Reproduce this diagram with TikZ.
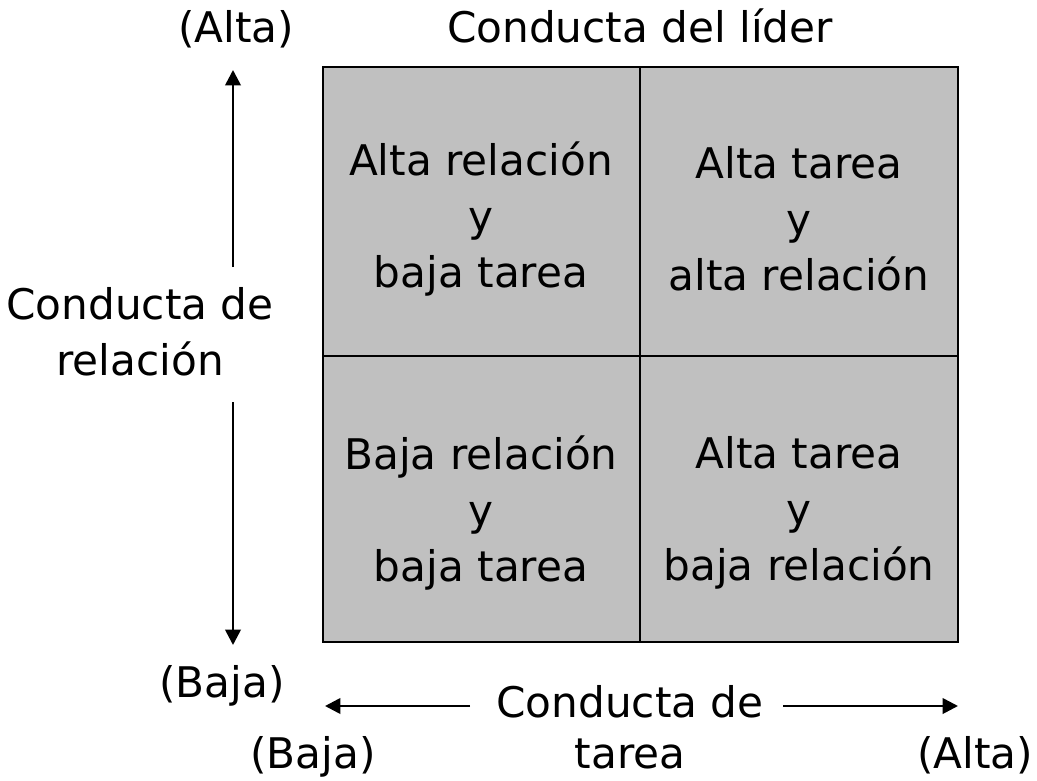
\documentclass[tikz,border=0pt]{standalone}
\usepackage{fontspec}
\setmainfont{DejaVu Sans}
\usepackage{tikz}
\usetikzlibrary{arrows.meta}
\definecolor{cellgray}{RGB}{192,192,192}

\begin{document}
\begin{tikzpicture}[x=0.025cm,y=-0.025cm,
  lbl/.style={font=\fontsize{30}{40}\selectfont,align=center,inner sep=0pt},
  axis/.style={line width=1.9pt,-{Triangle[length=11pt,width=11pt]}}]
\useasboundingbox (0,0) rectangle (1037,781);
\draw[line width=2pt,fill=cellgray] (323,67) rectangle (958,642);
\draw[line width=2pt] (640,67) -- (640,642);
\draw[line width=2pt] (323,356) -- (958,356);
\node[lbl] (hrbt) at (481,219) {Alta relación\\y\\baja tarea};
\node[lbl] (htar) at (799,219) {Alta tarea\\y\\alta relación};
\node[lbl] (brbt) at (481,513) {Baja relación\\y\\baja tarea};
\node[lbl] (htbr) at (799,513) {Alta tarea\\y\\baja relación};
\node[lbl,anchor=base] (lider) at (640,43) {Conducta del líder};
\node[lbl,anchor=base] (altav) at (236,43) {(Alta)};
\node[lbl,anchor=base] (bajav) at (222,697) {(Baja)};
\node[lbl,anchor=base] (bajah) at (313,768) {(Baja)};
\node[lbl,anchor=base] (altah) at (975,768) {(Alta)};
\node[lbl] (relac) at (140,332) {Conducta de\\relación};
\node[lbl,anchor=base] (cdt) at (630,717) {Conducta de};
\node[lbl,anchor=base] (tarea) at (630,768) {tarea};
\coordinate (v1) at (233,267);
\coordinate (v2) at (233,70);
\coordinate (v3) at (233,402);
\coordinate (v4) at (233,645);
\coordinate (h1) at (470,706);
\coordinate (h2) at (325,706);
\coordinate (h3) at (783,706);
\coordinate (h4) at (958,706);
\draw[axis] (v1) -- (v2);
\draw[axis] (v3) -- (v4);
\draw[axis] (h1) -- (h2);
\draw[axis] (h3) -- (h4);
\end{tikzpicture}
\end{document}
